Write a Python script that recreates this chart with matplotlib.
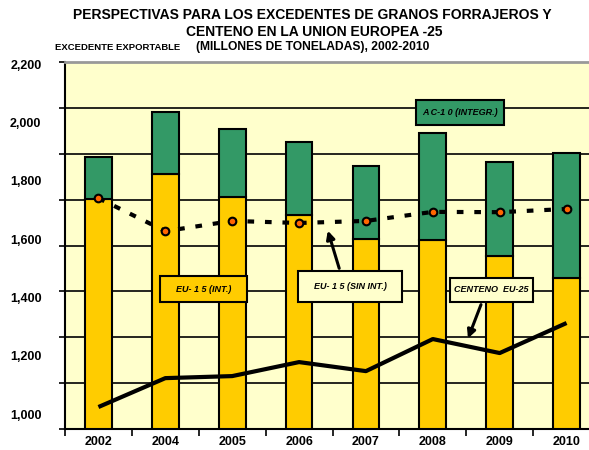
import matplotlib
matplotlib.use("Agg")
import matplotlib.pyplot as plt
import numpy as np
from matplotlib.patches import Rectangle

plt.rcParams['font.family'] = ['Liberation Sans', 'DejaVu Sans']

# ---- data ----
years = ["2002", "2004", "2005", "2006", "2007", "2008", "2009", "2010"]
eu15_int = [1737, 1823, 1744, 1682, 1600, 1597, 1542, 1466]        # yellow bar top
ac10_total = [1881, 2035, 1977, 1933, 1850, 1963, 1864, 1895]      # green bar top
eu15_sin_int = [1740, 1627, 1662, 1655, 1662, 1693, 1692, 1703]    # dotted line
centeno = [1024, 1123, 1130, 1178, 1147, 1257, 1209, 1312]         # solid line
ytick_vals = [1000, 1200, 1400, 1600, 1800, 2000, 2200]
ytick_labels = ["1,000", "1,200", "1,400", "1,600", "1,800", "2,000", "2,200"]

W, H = 589, 450
fig = plt.figure(figsize=(W / 100, H / 100), dpi=100)
fig.patch.set_facecolor("white")

ax_l, ax_r, ax_t, ax_b = 65, 600, 62, 429
ax = fig.add_axes([ax_l / W, 1 - ax_b / H, (ax_r - ax_l) / W, (ax_b - ax_t) / H])
ax.set_facecolor("#FFFFCC")

YELLOW = "#FFCC00"
GREEN = "#339966"

x = np.arange(len(years))
green_h = [t - b for t, b in zip(ac10_total, eu15_int)]
y0 = 948.6
ax.bar(x, [v - y0 for v in eu15_int], bottom=y0, width=0.4, color=YELLOW,
       edgecolor="black", linewidth=1.5, zorder=3)
ax.bar(x, green_h, bottom=eu15_int, width=0.4, color=GREEN,
       edgecolor="black", linewidth=1.5, zorder=3)

ax.plot(x, eu15_sin_int, color="black", lw=3, dashes=(1.6, 2.6), zorder=4)
ax.plot(x, eu15_sin_int, ls="none", marker="o", ms=5.5, mfc="#FF6600",
        mec="black", mew=1.5, zorder=5)
ax.plot(x, centeno, color="black", lw=3, zorder=4, solid_capstyle="butt")

ax.set_xlim(-0.5, len(years) - 0.5)
ax.set_ylim(y0, 2206.9)

# grid lines (evenly spaced across the plot area)
grid = np.linspace(y0, 2206.9, 9)
for g in grid[1:-1]:
    ax.axhline(g, color="black", lw=1.2, zorder=1)

ax.set_yticks(ytick_vals)
ax.set_yticklabels(ytick_labels, fontsize=9, fontweight="bold")
ax.set_yticks(grid, minor=True)
ax.tick_params(axis="y", which="major", length=0, pad=17)
ax.tick_params(axis="y", which="minor", length=4, width=1.2, direction="out")

ax.set_xticks(x)
ax.set_xticklabels(years, fontsize=9, fontweight="bold")
ax.set_xticks(np.arange(len(years) + 1) - 0.5, minor=True)
ax.tick_params(axis="x", which="major", length=0, pad=5)
ax.tick_params(axis="x", which="minor", length=5, width=1.2, direction="out")

for s in ["left", "bottom"]:
    ax.spines[s].set_linewidth(1.5)
    ax.spines[s].set_color("black")
ax.spines["top"].set_color("#999999")
ax.spines["top"].set_linewidth(2)
ax.spines["right"].set_visible(False)

# titles
fig.text(312 / W, 1 - 15 / H, "PERSPECTIVAS PARA LOS EXCEDENTES DE GRANOS FORRAJEROS Y",
         ha="center", va="center", fontsize=10, fontweight="bold")
fig.text(314 / W, 1 - 32 / H, "CENTENO EN LA UNION EUROPEA -25",
         ha="center", va="center", fontsize=10, fontweight="bold")
fig.text(313 / W, 1 - 47 / H, "(MILLONES DE TONELADAS), 2002-2010",
         ha="center", va="center", fontsize=8.7, fontweight="bold")
fig.text(55 / W, 1 - 48 / H, "EXCEDENTE EXPORTABLE",
         ha="left", va="center", fontsize=6.8, fontweight="bold")


def label_box(x0, y0p, x1, y1p, text, fc):
    fig.add_artist(Rectangle((x0 / W, 1 - y1p / H), (x1 - x0) / W, (y1p - y0p) / H,
                             transform=fig.transFigure, facecolor=fc,
                             edgecolor="black", linewidth=1.5, zorder=6))
    fig.text((x0 + x1) / 2 / W, 1 - (y0p + y1p) / 2 / H, text, ha="center",
             va="center", fontsize=6.5, fontweight="bold", style="italic", zorder=7)


label_box(416, 100, 504, 125, "A C-1 0 (INTEGR.)", GREEN)
label_box(160, 276, 247, 302, "EU- 1 5 (INT.)", YELLOW)
label_box(298, 271, 402, 302, "EU- 1 5 (SIN INT.)", "#FFFFCC")
label_box(450, 278, 533, 302, "CENTENO  EU-25", "#FFFFCC")

ax.annotate("", xy=(327, H - 228), xytext=(340, H - 271), xycoords="figure pixels",
            textcoords="figure pixels",
            arrowprops=dict(arrowstyle="-|>", lw=2.2, color="black", mutation_scale=12))
ax.annotate("", xy=(467, H - 341), xytext=(482, H - 302), xycoords="figure pixels",
            textcoords="figure pixels",
            arrowprops=dict(arrowstyle="-|>", lw=2.2, color="black", mutation_scale=12))

fig.savefig("out.png", dpi=100)
